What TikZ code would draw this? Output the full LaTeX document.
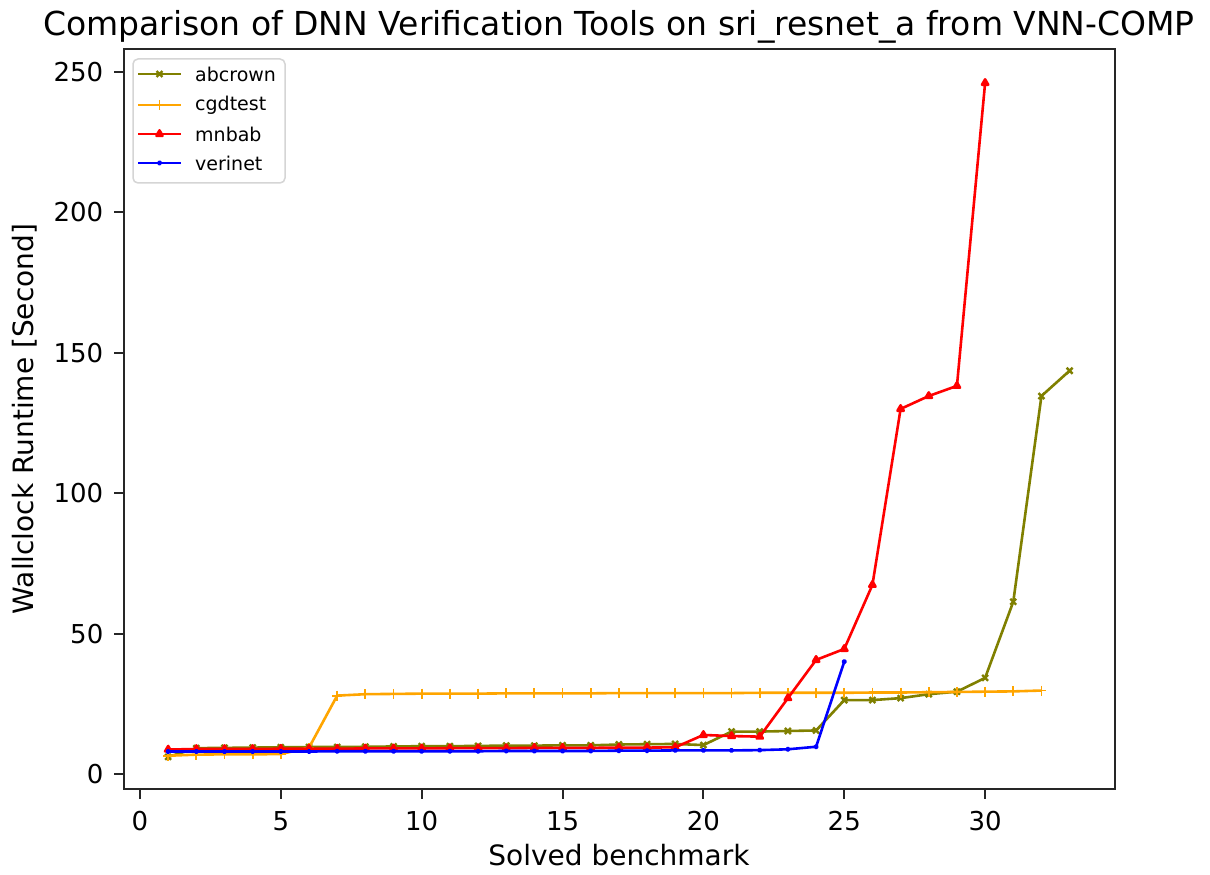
\documentclass[tikz,border=0pt]{standalone}
\usepackage{fontspec}
\setmainfont{DejaVu Sans}
\usetikzlibrary{plotmarks}
\definecolor{olivec}{HTML}{808000}
\definecolor{orangec}{HTML}{FFA500}
\definecolor{redc}{HTML}{FF0000}
\definecolor{bluec}{HTML}{0000FF}
\definecolor{legedge}{HTML}{D5D5D5}
\tikzset{
  ticklab/.style={font=\fontsize{26}{30}\selectfont, inner sep=0pt},
  axlab/.style={font=\fontsize{28}{34}\selectfont, inner sep=0pt},
  titlelab/.style={font=\fontsize{33}{40}\selectfont, inner sep=0pt},
  leglab/.style={font=\fontsize{19}{23}\selectfont, inner sep=0pt, anchor=west},
  axframe/.style={line width=2pt, black!85},
  tickline/.style={line width=2pt, black!85},
  series/.style={line width=2.6pt, line join=round, mark options={solid}},
  abcrownline/.style={series, olivec, mark=x, mark size=4.2pt, mark options={line width=2.4pt}},
  cgdline/.style={series, orangec, mark=+, mark size=5pt, mark options={line width=1.8pt}},
  mnbabline/.style={series, redc, mark=triangle*, mark size=3.6pt},
  verinetline/.style={series, bluec, mark=*, mark size=1.4pt},
}
\begin{document}
\begin{tikzpicture}[x=1pt,y=1pt]
\useasboundingbox (0,0) rectangle (1210,875);
\fill[white] (0,0) rectangle (1210,875);

% title and axis labels
\node[titlelab, anchor=base] (title) at (619,839) {Comparison of DNN Verification Tools on sri\_resnet\_a from VNN-COMP};
\node[axlab, anchor=base] (xlabel) at (619,9) {Solved benchmark};
\node[axlab, anchor=base, rotate=90] (ylabel) at (33,456) {Wallclock Runtime [Second]};

% data
\begin{scope}[shift={(140,100.7)}, x=28.17pt, y=2.8104pt]
  \draw[abcrownline] plot coordinates {(1,6.2)(2,9.3)(3,9.4)(4,9.5)(5,9.6)(6,9.7)(7,9.7)(8,9.8)(9,9.9)(10,10.0)(11,10.0)(12,10.1)(13,10.2)(14,10.2)(15,10.3)(16,10.3)(17,10.6)(18,10.7)(19,10.8)(20,10.4)(21,15.2)(22,15.2)(23,15.4)(24,15.6)(25,26.4)(26,26.4)(27,27.1)(28,28.5)(29,29.4)(30,34.3)(31,61.4)(32,134.6)(33,143.6)};
  \draw[cgdline] plot coordinates {(1,6.6)(2,7.0)(3,7.1)(4,7.1)(5,7.2)(6,9.5)(7,28.0)(8,28.5)(9,28.6)(10,28.7)(11,28.7)(12,28.7)(13,28.8)(14,28.8)(15,28.8)(16,28.8)(17,28.9)(18,28.9)(19,28.9)(20,28.9)(21,28.9)(22,29.0)(23,29.0)(24,29.0)(25,29.0)(26,29.1)(27,29.1)(28,29.2)(29,29.3)(30,29.4)(31,29.5)(32,29.8)};
  \draw[mnbabline] plot coordinates {(1,8.8)(2,9.0)(3,9.0)(4,9.0)(5,9.1)(6,9.1)(7,9.1)(8,9.2)(9,9.2)(10,9.2)(11,9.3)(12,9.3)(13,9.3)(14,9.4)(15,9.4)(16,9.4)(17,9.5)(18,9.5)(19,9.6)(20,14.0)(21,13.6)(22,13.4)(23,27.1)(24,40.7)(25,44.6)(26,67.4)(27,130.0)(28,134.6)(29,138.2)(30,246.0)};
  \draw[verinetline] plot coordinates {(1,8.1)(2,8.1)(3,8.1)(4,8.1)(5,8.1)(6,8.1)(7,8.2)(8,8.2)(9,8.2)(10,8.2)(11,8.2)(12,8.2)(13,8.3)(14,8.3)(15,8.3)(16,8.3)(17,8.4)(18,8.4)(19,8.5)(20,8.5)(21,8.5)(22,8.6)(23,8.9)(24,9.8)(25,40.1)};
\end{scope}

% axes frame
\coordinate (bl) at (123.5,86);
\coordinate (tr) at (1115,825.5);
\draw[axframe] (bl) rectangle (tr);

% y ticks
\foreach \v in {0,50,100,150,200,250}{
  \coordinate (yt\v) at (123.5,{100.7+2.8104*\v});
  \draw[tickline] (yt\v) -- ++(-10,0);
  \node[ticklab, anchor=east] (ytl\v) at ([xshift=-20pt]yt\v) {\v};
}
% x ticks
\foreach \v in {0,5,10,15,20,25,30}{
  \coordinate (xt\v) at ({140+28.17*\v},86);
  \draw[tickline] (xt\v) -- ++(0,-10);
  \node[ticklab, anchor=north] (xtl\v) at ([yshift=-22.5pt]xt\v) {\v};
}

% legend
\draw[legedge, line width=1.5pt, fill=white, fill opacity=0.8, rounded corners=5pt] (133,692) rectangle (285,816);
\foreach \nm/\st/\yy in {abcrown/abcrownline/801, cgdtest/cgdline/770, mnbab/mnbabline/741, verinet/verinetline/712}{
  \coordinate (l\nm a) at (138,\yy);
  \coordinate (l\nm b) at (181,\yy);
  \draw[\st, mark=none] (l\nm a) -- (l\nm b);
  \path[\st] plot coordinates {(159.5,\yy)};
  \node[leglab] (t\nm) at (195,\yy) {\nm};
}
\end{tikzpicture}
\end{document}
